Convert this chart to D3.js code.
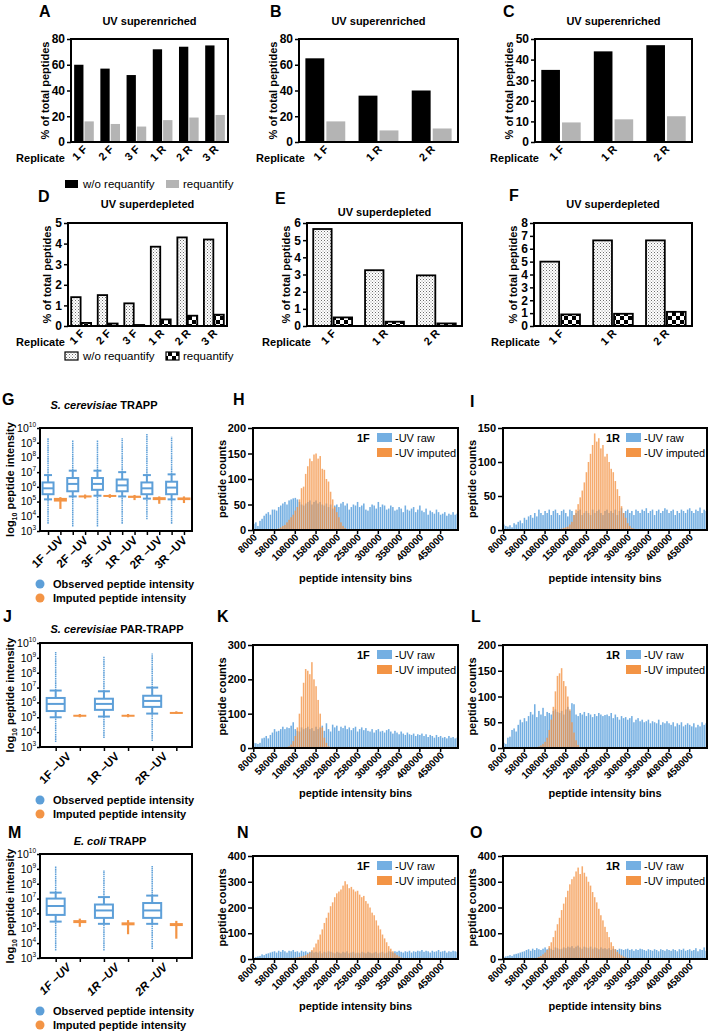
<!DOCTYPE html>
<html><head><meta charset="utf-8">
<script src="https://cdn.jsdelivr.net/npm/d3@7"></script>
<style>
body{margin:0;background:#fff;}
svg{display:block;font-family:"Liberation Sans",Arial,Helvetica,sans-serif;}
</style></head><body>
<script>
// ---------------- DATA ----------------
const repsSix = ["1 F","2 F","3 F","1 R","2 R","3 R"];
const repsThree = ["1 F","1 R","2 R"];
const enrA_wo  = [60,57,52,72,74,75];
const enrA_req = [16,14,12,17,19,21];
const enrB_wo  = [65,36,40];
const enrB_req = [16,9,10.5];
const enrC_wo  = [35,44,47];
const enrC_req = [9.5,11,12.5];
const depD_wo  = [1.4,1.5,1.1,3.85,4.3,4.2];
const depD_req = [0.15,0.12,0.05,0.32,0.5,0.55];
const depE_wo  = [5.65,3.25,2.95];
const depE_req = [0.5,0.25,0.15];
const depF_wo  = [5.0,6.65,6.65];
const depF_req = [0.9,0.95,1.1];

// box plots: observed [min, whiskerLow, q1, median, q3, whiskerHigh, max] (log10)
const boxG_cats = ["1F –UV","2F –UV","3F –UV","1R –UV","2R –UV","3R –UV"];
const boxG_obs = [
  [3.5,5.15,5.5,5.9,6.3,6.8,9.3],
  [3.3,5.35,5.7,6.2,6.6,7.1,9.2],
  [3.3,5.4,5.8,6.2,6.6,7.1,9.2],
  [3.5,5.35,5.7,6.1,6.5,7.0,9.3],
  [3.8,5.2,5.5,5.9,6.3,6.8,9.6],
  [3.5,5.15,5.5,5.95,6.35,6.85,9.4]];
// imputed [min, q1, median, q3, max] (log10)
const boxG_imp = [
  [4.5,5.0,5.15,5.25,5.3],
  [5.2,5.28,5.35,5.42,5.48],
  [5.25,5.35,5.4,5.45,5.5],
  [5.1,5.25,5.32,5.4,5.45],
  [4.85,5.1,5.2,5.3,5.35],
  [4.9,5.1,5.2,5.28,5.35]];
const boxJ_cats = ["1F –UV","1R –UV","2R –UV"];
const boxJ_obs = [
  [3.33,5.0,5.42,5.9,6.3,6.8,9.4],
  [3.6,5.05,5.5,5.9,6.25,6.75,9.1],
  [3.4,5.25,5.7,6.1,6.45,7.0,9.3]];
const boxJ_imp = [
  [5.0,5.07,5.12,5.17,5.22],
  [5.0,5.07,5.12,5.17,5.22],
  [5.25,5.3,5.33,5.36,5.4]];
const boxM_cats = ["1F –UV","1R –UV","2R –UV"];
const boxM_obs = [
  [3.5,5.45,5.9,6.5,7.0,7.4,9.2],
  [3.5,5.3,5.7,6.2,6.6,7.1,8.9],
  [3.6,5.3,5.7,6.2,6.7,7.2,9.2]];
const boxM_imp = [
  [5.1,5.35,5.45,5.55,5.65],
  [4.6,5.2,5.3,5.4,5.55],
  [4.3,5.15,5.25,5.35,5.5]];

// histograms: bins of 5000 starting at 8000
const histTickLabels = ["8000","58000","108000","158000","208000","258000","308000","358000","408000","458000"];
const binStarts = d3.range(8000, 500000, 5000);
const H_raw = [12,15,8,18,22,28,32,35,30,40, 40,38,45,48,52,55,50,58,60,62, 63,60,55,50,48,52,55,58,50,55,
  58,52,55,50,48,52,45,50,42,48, 50,45,52,55,48,52,40,45,50,48, 55,45,48,52,40,38,45,50,48,42,
  55,45,50,48,40,42,48,45,38,40, 45,42,35,48,40,38,42,45,35,40, 48,38,35,42,30,38,35,32,40,35, 30,32,35,28,32,30,35,30,32];
const H_impStart = 68000;
const H_imp = [3,5,8,10,15,20,25,30,38,45,60,82,85,110,125,140,135,148,150,140,145,120,118,100,95,75,60,45,35,25,15,8,4,2];
const I_raw = [8,6,5,7,4,10,8,12,14,10, 18,15,20,22,18,25,20,30,25,22, 28,25,30,22,28,30,25,22,28,30,
  25,20,30,28,22,25,28,30,22,25, 28,25,22,30,25,28,30,25,22,28, 30,25,28,25,30,22,28,32,25,28,
  30,25,28,22,30,28,25,30,28,32, 25,28,30,22,28,30,25,28,32,30, 25,28,30,22,28,25,30,28,25,30, 32,28,25,30,28,33,25,30,28];
const I_impStart = 148000;
const I_imp = [2,3,4,5,8,12,22,30,38,48,58,70,85,100,112,125,142,130,135,120,125,108,112,100,90,85,72,60,50,35,25,18,10,6,3,2];
const K_raw = [15,14,12,15,28,30,35,28,38,45, 55,48,50,55,62,55,60,58,65,75, 55,50,48,60,55,58,62,55,58,50,
  62,55,60,65,50,72,55,48,68,60, 65,50,62,58,65,55,60,52,58,62, 48,55,60,52,58,50,48,55,45,52,
  55,48,50,45,52,55,48,42,50,45, 40,48,42,38,45,40,38,42,35,40, 38,42,35,40,32,38,35,30,38,32, 35,30,32,28,35,30,32,28,30];
const K_impStart = 88000;
const K_imp = [3,5,10,20,35,60,100,150,190,230,225,215,250,200,180,140,100,60,30,15,5,2];
const L_raw = [10,8,20,22,35,38,32,45,55,50, 58,52,62,70,65,85,60,72,65,78, 62,70,68,65,72,75,70,68,72,65,
  75,80,72,87,85,65,62,68,65,70, 62,68,65,60,66,62,68,65,62,64, 65,62,68,58,65,60,55,62,58,60,
  55,58,62,50,55,58,52,55,50,52, 55,48,52,50,48,55,45,50,48,52, 48,45,50,42,48,45,50,42,45,48, 45,42,48,40,45,42,50,45,48];
const L_impStart = 88000;
const L_imp = [2,3,5,8,12,20,35,55,80,110,140,145,155,130,120,100,75,50,30,15,6,2];
const N_raw = [5,8,10,12,18,15,20,22,25,28, 30,25,32,28,35,30,25,32,30,35, 28,30,25,32,28,30,25,28,30,25,
  28,25,30,22,28,25,30,28,25,22, 28,25,22,28,25,30,22,25,28,22, 25,22,28,25,22,28,25,22,25,28,
  22,25,28,22,25,30,28,25,30,28, 32,28,25,30,28,32,25,30,28,32, 30,35,28,32,30,25,32,28,30,35, 28,30,32,25,30,28,32,30,28];
const N_impStart = 98000;
const N_imp = [2,3,5,6,8,10,12,15,20,25,35,45,60,75,95,115,140,160,180,205,220,240,255,262,270,285,302,290,275,280,
  270,262,265,250,240,245,225,215,200,180,170,150,130,115,95,80,65,50,40,30,22,15,10,6,3];
const O_raw = [8,10,12,15,12,18,20,22,25,28, 30,35,38,32,40,35,42,38,35,40, 45,38,42,40,35,45,42,38,40,45,
  42,48,45,50,42,48,52,45,40,48, 45,42,48,40,45,42,38,45,40,42, 38,42,35,40,38,35,40,38,35,38,
  40,35,38,32,38,35,40,38,35,32, 38,35,32,38,35,30,38,35,32,38, 35,32,38,35,30,38,35,40,32,35, 38,32,35,42,30,38,35,45,32];
const O_impStart = 78000;
const O_imp = [2,3,5,8,12,18,25,35,50,65,85,110,135,160,190,215,240,265,290,310,320,340,355,330,360,335,320,300,285,260,
  240,220,195,170,150,125,105,85,65,50,38,28,20,14,10,6,4,3,2];

// ---------------- DRAWING ----------------
const BLUE = "#5d9fd8", HBLUE = "#74afe2", ORANGE = "#f39445", GREY = "#b4b4b4";
const svg = d3.select("body").append("svg").attr("width",709).attr("height",1034);
const defs = svg.append("defs");
const dots = defs.append("pattern").attr("id","dots").attr("width",3).attr("height",3).attr("patternUnits","userSpaceOnUse");
dots.append("rect").attr("width",3).attr("height",3).attr("fill","#fff");
dots.append("rect").attr("width",1).attr("height",1).attr("fill","#6e6e6e");
dots.append("rect").attr("x",1.5).attr("y",1.5).attr("width",1).attr("height",1).attr("fill","#9a9a9a");
const chk = defs.append("pattern").attr("id","checker").attr("width",8).attr("height",8).attr("patternUnits","userSpaceOnUse");
chk.append("rect").attr("width",8).attr("height",8).attr("fill","#fff");
chk.append("rect").attr("width",4).attr("height",4).attr("fill","#000");
chk.append("rect").attr("x",4).attr("y",4).attr("width",4).attr("height",4).attr("fill","#000");

function letter(t,x,y){ svg.append("text").attr("x",x).attr("y",y).attr("font-size",16).attr("font-weight","bold").text(t); }
function frame(g,x0,x1,y0,y1){ g.append("rect").attr("x",x0).attr("y",y0).attr("width",x1-x0).attr("height",y1-y0).attr("fill","none").attr("stroke","#000").attr("stroke-width",2); }
function styleAxis(ag,fs,bold){
  ag.select(".domain").remove();
  ag.selectAll(".tick line").attr("stroke","#000").attr("stroke-width",1.5);
  ag.selectAll(".tick text").attr("font-size",fs).attr("font-weight",bold?"bold":"normal").attr("fill","#000").attr("font-family",null);
}
function yLabel(g,text,x,yc){
  g.append("text").attr("transform",`translate(${x},${yc}) rotate(-90)`).attr("text-anchor","middle")
   .attr("font-size",11).attr("font-weight","bold").text(text);
}

function barPanel(o){
  const g = svg.append("g");
  const x = d3.scaleBand().domain(o.cats).range([o.x0,o.x1]).paddingInner(0.25).paddingOuter(0.12);
  const xs = d3.scaleBand().domain([0,1]).range([0,x.bandwidth()]).paddingInner(0.1);
  const y = d3.scaleLinear().domain([0,o.ymax]).range([o.y1,o.y0]);
  [o.s1,o.s2].forEach((s,k)=>{
    g.selectAll(null).data(s).join("rect")
      .attr("x",(d,i)=>x(o.cats[i])+xs(k)).attr("width",xs.bandwidth())
      .attr("y",d=>y(d)).attr("height",d=>y(0)-y(d))
      .attr("fill",o.fills[k]).attr("stroke",o.outline?"#000":"none").attr("stroke-width",1.8);
  });
  const ag = g.append("g").attr("transform",`translate(${o.x0},0)`)
    .call(d3.axisLeft(y).tickValues(d3.range(0,o.ymax+0.001,o.ystep)).tickFormat(d3.format("d")).tickSize(4).tickPadding(2));
  styleAxis(ag,12,true);
  frame(g,o.x0,o.x1,o.y0,o.y1);
  g.selectAll(null).data(o.cats).join("text")
    .attr("transform",d=>`translate(${x(d)+x.bandwidth()/2+4},${o.y1+8}) rotate(-45)`)
    .attr("text-anchor","end").attr("font-size",11).attr("font-weight","bold").text(d=>d);
  g.append("text").attr("x",o.x0+o.repDx).attr("y",o.y1+20).attr("text-anchor","end")
    .attr("font-size",11).attr("font-weight","bold").text("Replicate");
  g.append("text").attr("x",(o.x0+o.x1)/2).attr("y",o.titleY).attr("text-anchor","middle")
    .attr("font-size",11).attr("font-weight","bold").text(o.title);
  yLabel(g,"% of total peptides",o.x0-o.ylDx,(o.y0+o.y1)/2);
}

barPanel({cats:repsSix,s1:enrA_wo,s2:enrA_req,x0:71,x1:228,y0:39,y1:142,ymax:80,ystep:20,fills:["#000",GREY],title:"UV superenriched",titleY:25,repDx:-6,ylDx:22});
barPanel({cats:repsThree,s1:enrB_wo,s2:enrB_req,x0:299,x1:458,y0:39,y1:142,ymax:80,ystep:20,fills:["#000",GREY],title:"UV superenriched",titleY:25,repDx:6,ylDx:22});
barPanel({cats:repsThree,s1:enrC_wo,s2:enrC_req,x0:535,x1:692,y0:39,y1:142,ymax:50,ystep:10,fills:["#000",GREY],title:"UV superenriched",titleY:25,repDx:4,ylDx:22});
barPanel({cats:repsSix,s1:depD_wo,s2:depD_req,x0:68,x1:227,y0:223,y1:326,ymax:5,ystep:1,fills:["url(#dots)","url(#checker)"],outline:true,title:"UV superdepleted",titleY:208,repDx:-3,ylDx:17});
barPanel({cats:repsThree,s1:depE_wo,s2:depE_req,x0:307,x1:462,y0:223,y1:326,ymax:6,ystep:1,fills:["url(#dots)","url(#checker)"],outline:true,title:"UV superdepleted",titleY:216,repDx:4,ylDx:17});
barPanel({cats:repsThree,s1:depF_wo,s2:depF_req,x0:534,x1:692,y0:223,y1:326,ymax:8,ystep:1,fills:["url(#dots)","url(#checker)"],outline:true,title:"UV superdepleted",titleY:208,repDx:6,ylDx:17});

letter("A",39,17); letter("B",270,17); letter("C",503,17);
letter("D",38,202); letter("E",275,204); letter("F",509,201);

// legends for bar rows
function barLegend(y,f1,f2,outline){
  const g = svg.append("g");
  [[65,f1,"w/o requantify",83],[166,f2,"requantify",183]].forEach(([x,f,t,tx])=>{
    g.append("rect").attr("x",x).attr("y",y-8).attr("width",13).attr("height",8).attr("fill",f)
      .attr("stroke",outline?"#000":"none").attr("stroke-width",1.2);
    g.append("text").attr("x",tx).attr("y",y).attr("font-size",11.5).text(t);
  });
}
barLegend(188,"#000",GREY,false);
barLegend(360,"url(#dots)","url(#checker)",true);

// ---------------- box plots ----------------
function boxPanel(o){
  const g = svg.append("g");
  const keys=[]; o.cats.forEach(c=>{keys.push(c+"|obs");keys.push(c+"|imp");});
  const x = d3.scalePoint().domain(keys).range([o.x0,o.x1]).padding(0.65);
  const y = d3.scaleLog().domain([1e3,1e10]).range([o.y1,o.y0]);
  const Y = v=>y(Math.pow(10,v));
  const bw=o.bw, cw=o.cw;
  o.obs.forEach((d,i)=>{
    const cx=x(o.cats[i]+"|obs"); const [mn,wl,q1,md,q3,wh,mx]=d;
    [[wh,mx],[mn,wl]].forEach(([a,b])=>g.append("line").attr("x1",cx).attr("x2",cx).attr("y1",Y(a)).attr("y2",Y(b))
      .attr("stroke",BLUE).attr("stroke-width",1.5).attr("stroke-dasharray","1.6,0.6"));
    [[wl,q1],[q3,wh]].forEach(([a,b])=>g.append("line").attr("x1",cx).attr("x2",cx).attr("y1",Y(a)).attr("y2",Y(b))
      .attr("stroke",BLUE).attr("stroke-width",2));
    [wl,wh].forEach(v=>g.append("line").attr("x1",cx-cw/2).attr("x2",cx+cw/2).attr("y1",Y(v)).attr("y2",Y(v))
      .attr("stroke",BLUE).attr("stroke-width",2));
    g.append("rect").attr("x",cx-bw/2).attr("width",bw).attr("y",Y(q3)).attr("height",Y(q1)-Y(q3))
      .attr("fill","#fff").attr("stroke",BLUE).attr("stroke-width",2);
    g.append("line").attr("x1",cx-bw/2).attr("x2",cx+bw/2).attr("y1",Y(md)).attr("y2",Y(md)).attr("stroke",BLUE).attr("stroke-width",2);
  });
  o.imp.forEach((d,i)=>{
    const cx=x(o.cats[i]+"|imp"); const [mn,q1,md,q3,mx]=d;
    g.append("line").attr("x1",cx).attr("x2",cx).attr("y1",Y(mn)).attr("y2",Y(mx)).attr("stroke",ORANGE).attr("stroke-width",2.2);
    g.append("rect").attr("x",cx-6.5).attr("width",13).attr("y",Y(q3)).attr("height",Math.max(2,Y(q1)-Y(q3))).attr("fill",ORANGE);
  });
  const ag = g.append("g").attr("transform",`translate(${o.x0},0)`)
    .call(d3.axisLeft(y).tickValues(d3.range(3,11).map(e=>Math.pow(10,e))).tickSize(3).tickPadding(1).tickFormat(()=>"10"));
  styleAxis(ag,10.5,false);
  ag.selectAll(".tick text").each(function(d){
    d3.select(this).append("tspan").attr("dy",-5).attr("font-size",6.5).text(Math.round(Math.log10(d)));
  });
  const xa = g.append("g").attr("transform",`translate(0,${o.y1})`).call(d3.axisBottom(x).tickSize(4).tickFormat(""));
  xa.select(".domain").remove(); xa.selectAll("line").attr("stroke","#000").attr("stroke-width",1.5);
  frame(g,o.x0,o.x1,o.y0,o.y1);
  g.selectAll(null).data(o.cats).join("text")
    .attr("transform",d=>`translate(${x(d+"|obs")+16},${o.y1+10}) rotate(-45)`)
    .attr("text-anchor","end").attr("font-size",11.5).attr("font-weight","bold")
    .attr("font-style",o.italicCats?"italic":"normal").text(d=>d);
  const t = g.append("text").attr("x",o.titleX).attr("y",o.titleY).attr("text-anchor","middle").attr("font-size",11).attr("font-weight","bold");
  t.append("tspan").attr("font-style","italic").text(o.species);
  t.append("tspan").text(" "+o.method);
  const yl = g.append("text").attr("transform",`translate(${o.x0-26},${(o.y0+o.y1)/2}) rotate(-90)`).attr("text-anchor","middle")
    .attr("font-size",11).attr("font-weight","bold");
  yl.append("tspan").text("log");
  yl.append("tspan").attr("dy",3).attr("font-size",7).text("10");
  yl.append("tspan").attr("dy",-3).text(" peptide intensity");
  [[BLUE,"Observed peptide intensity",o.legY],[ORANGE,"Imputed peptide intensity",o.legY+14]].forEach(([c,tx,yy])=>{
    g.append("circle").attr("cx",40).attr("cy",yy).attr("r",4.5).attr("fill",c);
    g.append("text").attr("x",53).attr("y",yy+4).attr("font-size",11).attr("font-weight","bold").text(tx);
  });
}
boxPanel({cats:boxG_cats,obs:boxG_obs,imp:boxG_imp,x0:40,x1:192,y0:428,y1:531,bw:11,cw:8,species:"S. cerevisiae",method:"TRAPP",titleX:104,titleY:409,legY:584});
boxPanel({cats:boxJ_cats,obs:boxJ_obs,imp:boxJ_imp,x0:40,x1:192,y0:643,y1:747,bw:18,cw:12,species:"S. cerevisiae",method:"PAR-TRAPP",titleX:117,titleY:633,legY:800});
boxPanel({cats:boxM_cats,obs:boxM_obs,imp:boxM_imp,x0:40,x1:192,y0:854,y1:958,bw:18,cw:12,species:"E. coli",method:"TRAPP",titleX:110,titleY:845,legY:1011,italicCats:true});

// ---------------- histograms ----------------
function histPanel(o){
  const g = svg.append("g");
  const bins = binStarts.slice(0,o.raw.length);
  const x = d3.scaleBand().domain(bins).range([o.x0,o.x1]).paddingInner(0.25).paddingOuter(0);
  const y = d3.scaleLinear().domain([0,o.ymax]).range([o.y1,o.y0]);
  g.selectAll(null).data(o.raw.map((v,i)=>({b:bins[i],v}))).join("rect")
    .attr("x",d=>x(d.b)).attr("width",x.bandwidth()).attr("y",d=>y(d.v)).attr("height",d=>y(0)-y(d.v)).attr("fill",HBLUE);
  g.selectAll(null).data(o.imp.map((v,i)=>({b:o.impStart+5000*i,v}))).join("rect")
    .attr("x",d=>x(d.b)).attr("width",x.bandwidth()).attr("y",d=>y(d.v)).attr("height",d=>y(0)-y(d.v))
    .attr("fill",ORANGE).attr("fill-opacity",0.78);
  const ag = g.append("g").attr("transform",`translate(${o.x0},0)`)
    .call(d3.axisLeft(y).tickValues(d3.range(0,o.ymax+1,o.ystep)).tickSize(5).tickPadding(2));
  styleAxis(ag,11,true);
  const tv = histTickLabels.map(Number);
  const xa = g.append("g").attr("transform",`translate(0,${o.y1})`)
    .call(d3.axisBottom(x).tickValues(tv).tickSize(4).tickFormat(""));
  xa.select(".domain").remove(); xa.selectAll("line").attr("stroke","#000").attr("stroke-width",1.5);
  g.selectAll(null).data(histTickLabels).join("text")
    .attr("transform",d=>`translate(${x(+d)+x.bandwidth()/2+4},${o.y1+8}) rotate(-45)`)
    .attr("text-anchor","end").attr("font-size",10).attr("font-weight","bold").text(d=>d);
  frame(g,o.x0,o.x1,o.y0,o.y1);
  yLabel(g,"peptide counts",o.x0-27,(o.y0+o.y1)/2);
  g.append("text").attr("x",(o.x0+o.x1)/2).attr("y",o.xlabY).attr("text-anchor","middle")
    .attr("font-size",11).attr("font-weight","bold").text("peptide intensity bins");
  g.append("text").attr("x",o.x1-101).attr("y",o.y0+14).attr("font-size",11).attr("font-weight","bold").text(o.rep);
  [[HBLUE,"-UV raw",5],[ORANGE,"-UV imputed",20]].forEach(([c,t,dy])=>{
    g.append("rect").attr("x",o.x1-81).attr("y",o.y0+dy).attr("width",15).attr("height",9).attr("fill",c);
    g.append("text").attr("x",o.x1-63).attr("y",o.y0+dy+9).attr("font-size",11).text(t);
  });
}
histPanel({raw:H_raw,imp:H_imp,impStart:H_impStart,x0:253,x1:458,y0:428,y1:530,ymax:200,ystep:50,rep:"1F",xlabY:582});
histPanel({raw:I_raw,imp:I_imp,impStart:I_impStart,x0:503,x1:707,y0:428,y1:530,ymax:150,ystep:50,rep:"1R",xlabY:582});
histPanel({raw:K_raw,imp:K_imp,impStart:K_impStart,x0:253,x1:458,y0:645,y1:748,ymax:300,ystep:100,rep:"1F",xlabY:797});
histPanel({raw:L_raw,imp:L_imp,impStart:L_impStart,x0:503,x1:707,y0:645,y1:748,ymax:200,ystep:50,rep:"1R",xlabY:797});
histPanel({raw:N_raw,imp:N_imp,impStart:N_impStart,x0:253,x1:458,y0:856,y1:959,ymax:400,ystep:100,rep:"1F",xlabY:1010});
histPanel({raw:O_raw,imp:O_imp,impStart:O_impStart,x0:503,x1:707,y0:856,y1:959,ymax:400,ystep:100,rep:"1R",xlabY:1010});

letter("G",2,405); letter("H",233,405); letter("I",470,407);
letter("J",3,622); letter("K",217,622); letter("L",471,622);
letter("M",8,838); letter("N",237,838); letter("O",470,838);
</script></body></html>
